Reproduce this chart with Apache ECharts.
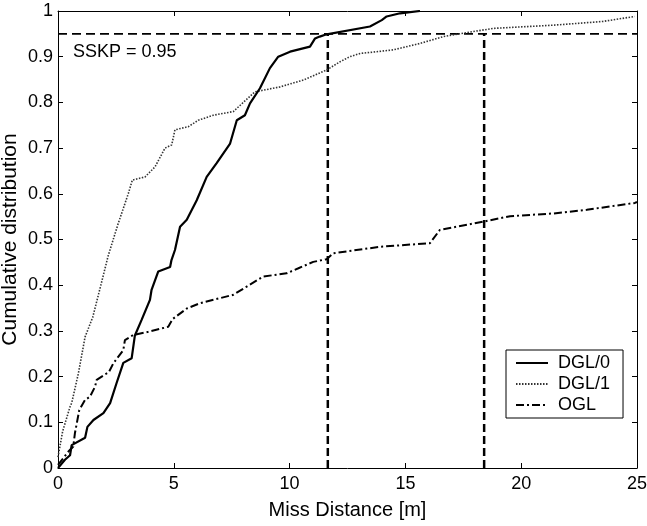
<!DOCTYPE html>
<html>
<head>
<meta charset="utf-8">
<script src="https://cdn.jsdelivr.net/npm/echarts@6/dist/echarts.min.js"></script>
<style>
html,body{margin:0;padding:0;background:#fff;}
#chart{width:647px;height:526px;}
</style>
</head>
<body>
<div id="chart"></div>
<script>
// ---- data ----
const seriesNames = ['DGL/0', 'DGL/1', 'OGL'];
const xTickLabels = ['0', '5', '10', '15', '20', '25'];
const yTickLabels = ['0', '0.1', '0.2', '0.3', '0.4', '0.5', '0.6', '0.7', '0.8', '0.9', '1'];

const dgl0X = [0, 0.3, 0.52, 0.59, 1.17, 1.27, 1.53, 1.96, 2.25, 2.53, 2.82, 3.18, 3.32, 3.61, 3.97, 4.04, 4.33, 4.84, 4.9, 5.05, 5.27, 5.56, 5.99, 6.42, 6.85, 7.43, 7.72, 8.07, 8.29, 8.72, 9.15, 9.51, 10.02, 10.88, 11.1, 11.3, 11.6, 13.47, 13.98, 14.19, 14.77, 15.63];
const dgl0Y = [0, 0.018, 0.028, 0.05, 0.066, 0.09, 0.105, 0.12, 0.142, 0.186, 0.23, 0.24, 0.29, 0.324, 0.368, 0.39, 0.43, 0.44, 0.455, 0.477, 0.528, 0.543, 0.586, 0.637, 0.667, 0.71, 0.761, 0.772, 0.798, 0.831, 0.875, 0.90, 0.911, 0.922, 0.94, 0.944, 0.949, 0.966, 0.98, 0.988, 0.995, 1.0];

const dgl1X = [0, 0.2, 0.52, 0.59, 0.88, 1.17, 1.5, 1.85, 2.17, 2.6, 3.04, 3.21, 3.76, 4.19, 4.62, 4.91, 5.05, 5.63, 6.06, 6.71, 7.57, 8.5, 9.59, 10.6, 11.6, 12.18, 12.6, 13.04, 14.48, 15.63, 16.64, 17.93, 18.8, 21.4, 23.5, 24.9];
const dgl1Y = [0.024, 0.08, 0.134, 0.142, 0.207, 0.287, 0.33, 0.40, 0.465, 0.535, 0.601, 0.63, 0.637, 0.659, 0.70, 0.707, 0.74, 0.747, 0.761, 0.772, 0.78, 0.823, 0.834, 0.849, 0.871, 0.889, 0.90, 0.907, 0.915, 0.929, 0.944, 0.955, 0.962, 0.969, 0.977, 0.988];

const oglX = [0, 0.45, 0.66, 0.73, 0.92, 1.17, 1.38, 1.6, 1.67, 2.2, 2.39, 2.82, 2.89, 3.25, 3.9, 4.76, 4.95, 5.56, 6.1, 6.71, 7.57, 8.15, 8.86, 9.87, 10.38, 11.02, 11.6, 11.89, 13.9, 16.06, 16.49, 18.36, 19.52, 21.39, 22.83, 24.91, 25];
const oglY = [0.007, 0.036, 0.047, 0.076, 0.127, 0.149, 0.156, 0.178, 0.193, 0.21, 0.229, 0.258, 0.28, 0.291, 0.298, 0.309, 0.326, 0.349, 0.36, 0.368, 0.379, 0.397, 0.419, 0.426, 0.437, 0.451, 0.457, 0.47, 0.484, 0.492, 0.521, 0.539, 0.551, 0.557, 0.565, 0.58, 0.582];

const sskpLevel = 0.95;
const sskpLabel = 'SSKP = 0.95';
const crossX = [11.65, 18.4];   // where DGL/0 and DGL/1 reach the SSKP level
const xRange = [0, 25];
const yRange = [0, 1];

// ---- build ----
const zip = (xs, ys) => xs.map((x, i) => [x, ys[i]]);
const FONT = 'Liberation Sans, Arial, sans-serif';

const chart = echarts.init(document.getElementById('chart'), null, {renderer: 'canvas'});

const axisCommon = {
  axisLine: {show: true, onZero: false, lineStyle: {color: '#000', width: 1}},
  axisTick: {show: true, inside: true, length: 5, lineStyle: {color: '#000'}},
  splitLine: {show: false}
};

chart.setOption({
  animation: false,
  backgroundColor: '#fff',
  grid: {left: 58, right: 10, top: 11, bottom: 58, containLabel: false, outerBoundsMode: 'none'},
  xAxis: [
    Object.assign({
      type: 'value', min: xRange[0], max: xRange[1], interval: 5, position: 'bottom',
      name: 'Miss Distance [m]', nameLocation: 'middle', nameGap: 32, nameMoveOverlap: false,
      nameTextStyle: {fontFamily: FONT, fontSize: 20, color: '#000'},
      axisLabel: {margin: 7, fontFamily: FONT, fontSize: 18, color: '#000',
        formatter: v => xTickLabels[Math.round(v / 5)]}
    }, axisCommon),
    Object.assign({
      type: 'value', min: xRange[0], max: xRange[1], interval: 5, position: 'top',
      axisLabel: {show: false}
    }, axisCommon)
  ],
  yAxis: [
    Object.assign({
      type: 'value', min: yRange[0], max: yRange[1], interval: 0.1, position: 'left',
      name: 'Cumulative distribution', nameLocation: 'middle', nameGap: 37, nameMoveOverlap: false,
      nameTextStyle: {fontFamily: FONT, fontSize: 21, color: '#000'},
      axisLabel: {margin: 5, fontFamily: FONT, fontSize: 18, color: '#000',
        formatter: v => yTickLabels[Math.round(v * 10)]}
    }, axisCommon),
    Object.assign({
      type: 'value', min: yRange[0], max: yRange[1], interval: 0.1, position: 'right',
      axisLabel: {show: false}
    }, axisCommon)
  ],
  legend: {
    data: seriesNames,
    orient: 'vertical',
    left: 506, top: 350,
    padding: [4, 13, 4, 9],
    itemGap: 3,
    itemWidth: 32, itemHeight: 14,
    borderColor: '#000', borderWidth: 1,
    backgroundColor: '#fff',
    itemStyle: {opacity: 0},
    textStyle: {fontFamily: FONT, fontSize: 18, color: '#000', padding: [0, 0, 0, 5]}
  },
  graphic: [{
    type: 'text', left: 73, top: 43,
    style: {text: sskpLabel, font: '18px ' + FONT, fill: '#000'}
  }],
  series: [
    {
      name: 'DGL/0', type: 'line', data: zip(dgl0X, dgl0Y), symbol: 'none', z: 5,
      lineStyle: {color: '#000', width: 2.2, type: 'solid'}, itemStyle: {color: '#000'}
    },
    {
      name: 'DGL/1', type: 'line', data: zip(dgl1X, dgl1Y), symbol: 'none', z: 4,
      lineStyle: {color: '#333', width: 1.6, type: [1.5, 1.5]}, itemStyle: {color: '#333'}
    },
    {
      name: 'OGL', type: 'line', data: zip(oglX, oglY), symbol: 'none', z: 4,
      lineStyle: {color: '#000', width: 2, type: [8, 3, 2, 3]}, itemStyle: {color: '#000'}
    },
    {
      name: 'sskp', type: 'line', data: [[xRange[0], sskpLevel], [xRange[1], sskpLevel]],
      symbol: 'none', silent: true, z: 3,
      lineStyle: {color: '#000', width: 1.6, type: [9, 5]}
    },
    {
      name: 'cross1', type: 'line', data: [[crossX[0], yRange[0]], [crossX[0], sskpLevel]],
      symbol: 'none', silent: true, z: 3,
      lineStyle: {color: '#000', width: 2.5, type: [8, 4]}
    },
    {
      name: 'cross2', type: 'line', data: [[crossX[1], yRange[0]], [crossX[1], sskpLevel]],
      symbol: 'none', silent: true, z: 3,
      lineStyle: {color: '#000', width: 2.5, type: [8, 4]}
    }
  ]
});
</script>
</body>
</html>
